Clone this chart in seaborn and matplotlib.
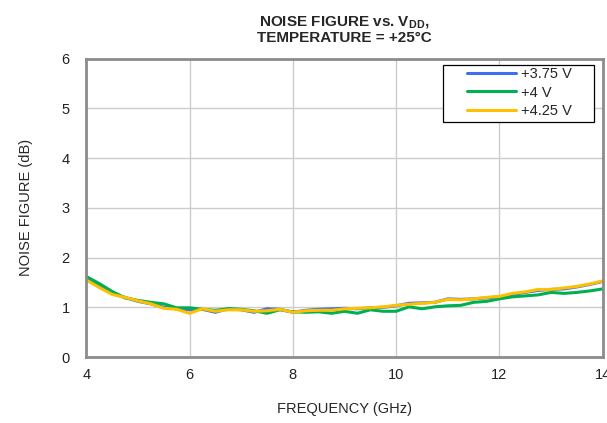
import numpy as np
import pandas as pd
import seaborn as sns
import matplotlib
matplotlib.use("Agg")
import matplotlib.pyplot as plt
from matplotlib.patches import Rectangle

# ------------------- Data -------------------
freq = [4.00, 4.25, 4.50, 4.75, 5.00, 5.25, 5.50, 5.75, 6.00, 6.25,
        6.50, 6.75, 7.00, 7.25, 7.50, 7.75, 8.00, 8.25, 8.50, 8.75,
        9.00, 9.25, 9.50, 9.75, 10.00, 10.25, 10.50, 10.75, 11.00, 11.25,
        11.50, 11.75, 12.00, 12.25, 12.50, 12.75, 13.00, 13.25, 13.50, 13.75,
        14.00]

nf_375 = [1.58, 1.42, 1.28, 1.20, 1.12, 1.07, 1.00, 0.97, 0.95, 0.96,
          0.90, 0.97, 0.95, 0.90, 0.97, 0.96, 0.90, 0.94, 0.96, 0.97,
          0.98, 0.97, 0.99, 1.00, 1.03, 1.08, 1.09, 1.10, 1.17, 1.16,
          1.17, 1.19, 1.21, 1.26, 1.30, 1.34, 1.36, 1.37, 1.41, 1.46,
          1.52]

nf_400 = [1.62, 1.48, 1.32, 1.19, 1.14, 1.10, 1.07, 0.99, 0.99, 0.96,
          0.94, 0.97, 0.96, 0.93, 0.88, 0.95, 0.91, 0.90, 0.91, 0.88,
          0.92, 0.88, 0.95, 0.92, 0.92, 1.01, 0.97, 1.01, 1.03, 1.04,
          1.10, 1.12, 1.17, 1.21, 1.23, 1.25, 1.30, 1.28, 1.30, 1.33,
          1.37]

nf_425 = [1.55, 1.40, 1.26, 1.20, 1.13, 1.07, 0.98, 0.96, 0.88, 0.97,
          0.92, 0.95, 0.95, 0.92, 0.93, 0.96, 0.90, 0.93, 0.94, 0.94,
          0.97, 0.98, 0.99, 1.01, 1.04, 1.06, 1.08, 1.10, 1.16, 1.15,
          1.17, 1.20, 1.22, 1.28, 1.31, 1.36, 1.36, 1.39, 1.42, 1.47,
          1.53]

labels = ["+3.75 V", "+4 V", "+4.25 V"]
colors = ["#3F6FF0", "#00B050", "#FFC000"]

df = pd.concat([
    pd.DataFrame({"freq": freq, "nf": vals, "vdd": lab})
    for vals, lab in zip([nf_375, nf_400, nf_425], labels)
], ignore_index=True)

# ------------------- Style -------------------
sns.set_style("white")
plt.rcParams["font.family"] = ["Liberation Sans", "DejaVu Sans"]
plt.rcParams["mathtext.fontset"] = "custom"
plt.rcParams["mathtext.rm"] = "Liberation Sans"
plt.rcParams["mathtext.bf"] = "Liberation Sans:bold"

fig = plt.figure(figsize=(6.07, 4.23), dpi=100)
ax = fig.add_axes([0.142, 0.156, 0.851, 0.705])

sns.lineplot(data=df, x="freq", y="nf", hue="vdd", palette=colors,
             linewidth=2.2, ax=ax)

ax.set_xlim(4, 14)
ax.set_ylim(0, 6)
ax.set_xticks([4, 6, 8, 10, 12, 14])
ax.set_yticks([0, 1, 2, 3, 4, 5, 6])
ax.grid(True, color="#cccccc", linewidth=1)
ax.set_axisbelow(True)
for sp in ax.spines.values():
    sp.set_color("#8c8c8c")
    sp.set_linewidth(2)
ax.tick_params(axis="both", length=0, labelsize=10.5, colors="#222222")
ax.tick_params(axis="y", pad=12)
ax.tick_params(axis="x", pad=8)

ax.set_xlabel("FREQUENCY (GHz)", fontsize=10.5, labelpad=14)
ax.set_ylabel("NOISE FIGURE (dB)", fontsize=10.5, labelpad=20)
ax.set_title("NOISE FIGURE vs. V$_{\\mathbf{DD}}$,\nTEMPERATURE = +25°C",
             fontsize=11, fontweight="bold", pad=12, linespacing=1.0)

# legend: frameless legend inside a square box drawn separately
leg = ax.legend(loc="upper left", bbox_to_anchor=(0.738, 0.972),
                fontsize=10.5, frameon=False,
                handlelength=3.3, handletextpad=0.35, labelspacing=0.3,
                borderpad=0, borderaxespad=0)
leg.set_title(None)
ax.add_patch(Rectangle((0.690, 0.789), 0.293, 0.191, transform=ax.transAxes,
                       facecolor="white", edgecolor="black", linewidth=0.9,
                       zorder=4))
leg.set_zorder(5)

fig.savefig("out.png", dpi=100)
